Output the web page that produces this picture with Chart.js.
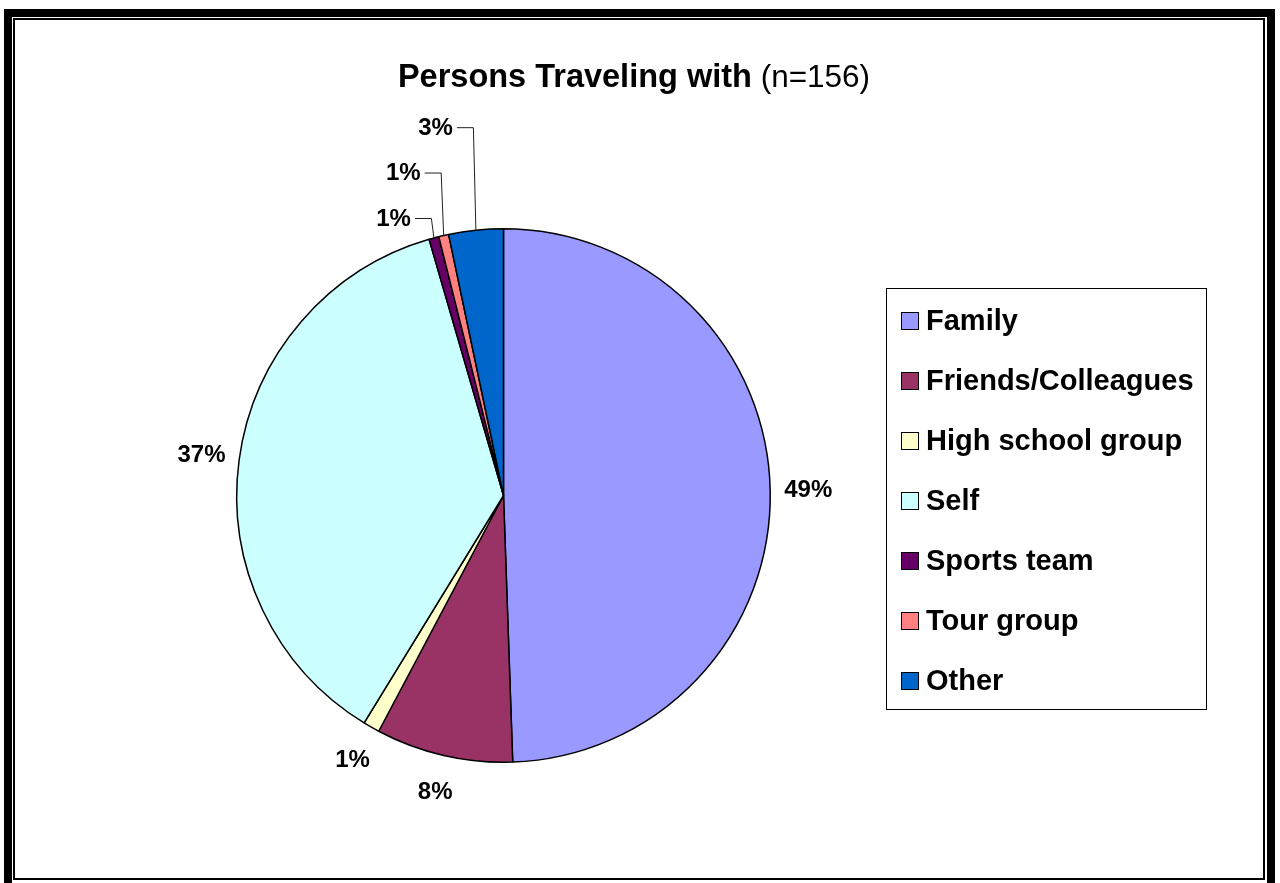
<!DOCTYPE html>
<html>
<head>
<meta charset="utf-8">
<title>Persons Traveling with</title>
<script src="https://cdn.jsdelivr.net/npm/chart.js@4.4.1/dist/chart.umd.min.js"></script>
<style>
    html, body { margin: 0; padding: 0; background: #fff; overflow: hidden; }
    .frame-outer {
        position: absolute; left: 4px; top: 9px; width: 1271px; height: 900px;
        border: 8px solid #000; box-sizing: border-box;
    }
    .frame-inner {
        position: absolute; left: 13px; top: 18px; width: 1252px; height: 862px;
        border: 2px solid #000; box-sizing: border-box;
    }
    #chart { position: absolute; left: 0; top: 0; }
</style>
</head>
<body>
<div class="frame-outer"></div>
<div class="frame-inner"></div>
<canvas id="chart" width="1280" height="883"></canvas>
<script>
const categories = ['Family', 'Friends/Colleagues', 'High school group', 'Self', 'Sports team', 'Tour group', 'Other'];
const shares = [49.45, 8.3, 1.0, 36.75, 0.6, 0.6, 3.3];
const sliceColors = ['#9999FF', '#993366', '#FFFFCC', '#CCFFFF', '#660066', '#FF8080', '#0066CC'];

// small slices get their label lifted up on a leader line (px above the rim)
const calloutRise = [0, 0, 0, 0, 20, 63, 103];

const FONT = '"Liberation Sans", Arial, sans-serif';

const titlePlugin = {
    id: 'splitTitle',
    afterDraw(chart) {
        const ctx = chart.ctx;
        const boldPart = 'Persons Traveling with';
        const plainPart = ' (n=156)';
        ctx.save();
        ctx.fillStyle = '#000';
        ctx.textBaseline = 'alphabetic';
        ctx.font = 'bold 32.5px ' + FONT;
        const w1 = ctx.measureText(boldPart).width;
        ctx.font = '31.5px ' + FONT;
        const w2 = ctx.measureText(plainPart).width;
        const left = 634 - (w1 + w2) / 2;
        ctx.textAlign = 'left';
        ctx.font = 'bold 32.5px ' + FONT;
        ctx.fillText(boldPart, left, 87);
        ctx.font = '31.5px ' + FONT;
        ctx.fillText(plainPart, left + w1, 87);
        ctx.restore();
    }
};

const sliceLabels = {
    id: 'sliceLabels',
    afterDatasetsDraw(chart) {
        const ctx = chart.ctx;
        const meta = chart.getDatasetMeta(0);
        const values = chart.data.datasets[0].data;
        const total = values.reduce((a, b) => a + b, 0);
        ctx.save();
        ctx.font = 'bold 24px ' + FONT;
        ctx.fillStyle = '#000';
        ctx.textBaseline = 'middle';
        meta.data.forEach((arc, i) => {
            const p = arc.getProps(['x', 'y', 'startAngle', 'endAngle', 'outerRadius'], true);
            const mid = (p.startAngle + p.endAngle) / 2;
            const text = Math.round(values[i] / total * 100) + '%';
            if (calloutRise[i]) {
                const ex = p.x + Math.cos(mid) * p.outerRadius;
                const ey = p.y + Math.sin(mid) * p.outerRadius;
                const bx = ex - 3;
                const by = ey - calloutRise[i];
                ctx.strokeStyle = '#222';
                ctx.lineWidth = 1;
                ctx.beginPath();
                ctx.moveTo(bx - 16, by + 0.5);
                ctx.lineTo(bx + 0.5, by + 0.5);
                ctx.lineTo(ex, ey);
                ctx.stroke();
                ctx.textAlign = 'right';
                ctx.fillText(text, bx - 20, by + 1);
            } else {
                const r = p.outerRadius + 38;
                ctx.textAlign = 'center';
                ctx.fillText(text, p.x + Math.cos(mid) * r, p.y + Math.sin(mid) * r);
            }
        });
        ctx.restore();
    }
};

const boxedLegend = {
    id: 'boxedLegend',
    afterDraw(chart) {
        const ctx = chart.ctx;
        const ds = chart.data.datasets[0];
        ctx.save();
        ctx.strokeStyle = '#000';
        ctx.lineWidth = 1;
        ctx.strokeRect(886.5, 288.5, 320, 421);
        ctx.font = 'bold 29px ' + FONT;
        ctx.textAlign = 'left';
        ctx.textBaseline = 'middle';
        chart.data.labels.forEach((label, i) => {
            const cy = 321 + i * 60;
            ctx.fillStyle = ds.backgroundColor[i];
            ctx.fillRect(901, cy - 9, 18, 18);
            ctx.strokeRect(901.5, cy - 8.5, 17, 17);
            ctx.fillStyle = '#000';
            ctx.fillText(label, 926, cy + 1);
        });
        ctx.restore();
    }
};

new Chart(document.getElementById('chart'), {
    type: 'pie',
    data: {
        labels: categories,
        datasets: [{
            data: shares,
            backgroundColor: sliceColors,
            borderColor: '#000',
            borderWidth: 1.5,
        }],
    },
    options: {
        responsive: false,
        animation: false,
        layout: { padding: { left: 236, right: 509, top: 228, bottom: 120 } },
        plugins: {
            legend: { display: false },
            title: { display: false },
            tooltip: { enabled: false },
        },
    },
    plugins: [sliceLabels, boxedLegend, titlePlugin],
});
</script>
</body>
</html>
